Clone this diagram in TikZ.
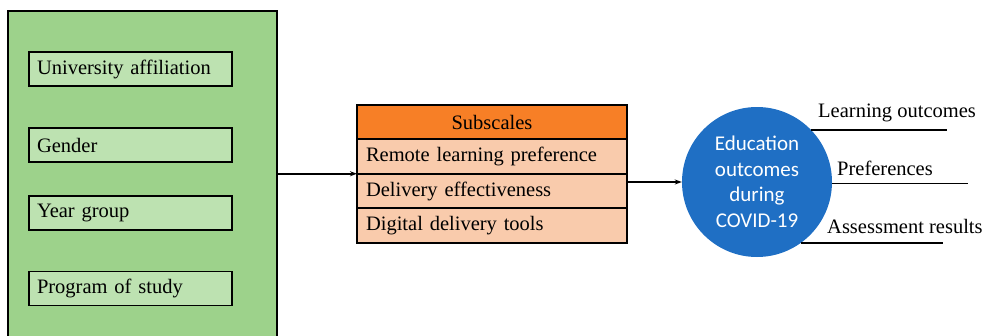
\documentclass[tikz,border=0pt]{standalone}
\usepackage{fontspec}
\setmainfont{Liberation Serif}
\newfontfamily\calibri{Carlito}
\usetikzlibrary{arrows.meta}
\definecolor{col1}{HTML}{9DD28B}
\definecolor{col2}{HTML}{BDE2B1}
\definecolor{col3}{HTML}{F77F26}
\definecolor{col4}{HTML}{F9CBAC}
\definecolor{col5}{HTML}{1F6FC4}

\begin{document}
\begin{tikzpicture}[x=1pt, y=-1pt,
		item/.style={draw, line width=1.8pt, fill=col2, minimum width=203pt, minimum height=34pt,
			text width=187pt, inner xsep=8pt, align=left},
		row/.style={draw, line width=1.8pt, fill=col4, outer sep=0pt, minimum width=270pt,
			minimum height=34.5pt, text width=252pt, inner xsep=9pt, align=left},
		link/.style={line width=1.5pt, -{Stealth[length=7pt, width=5pt]}},
		outline/.style={line width=1.5pt},
		label/.style={anchor=base west, inner sep=0pt},
	]
	\useasboundingbox (0,0) rectangle (991,335);
	\fontsize{20.5}{24}\selectfont
	% factors
	\node[draw, line width=1.8pt, fill=col1, anchor=north west, minimum width=269pt, minimum height=345pt] (factors) at (7,10) {};
	\node[item] (univ) at (130.5,69) {University affiliation};
	\node[item] (gender) at (130.5,145) {Gender};
	\node[item] (year) at (130.5,213) {Year group};
	\node[item] (prog) at (130.5,288.5) {Program of study};
	% subscales table
	\node[row, fill=col3, align=center] (head) at (492,122) {Subscales};
	\node[row] (remote) at (492,156.5) {Remote learning preference};
	\node[row] (deliv) at (492,191) {Delivery effectiveness};
	\node[row] (tools) at (492,225.5) {Digital delivery tools};
	% outcomes
	\node[circle, fill=col5, minimum size=150pt, text=white, align=center,
		font=\calibri\fontsize{21}{25.5}\selectfont] (outc) at (757,182) {Education\\outcomes\\during\\COVID-19};
	\draw[link] (remote.south west -| factors.east) -- (remote.south west);
	\draw[link] (deliv.east |- outc.west) -- (outc.west);
	\coordinate (loend) at (947,130);
	\coordinate (prend) at (968,184);
	\coordinate (asend) at (943,243);
	\draw[outline] (outc.44) -- (outc.44 -| loend);
	\draw[outline] (outc.-1) -- (outc.-1 -| prend);
	\draw[outline] (outc.-54) -- (outc.-54 -| asend);
	\node[label] (lo) at (818,117) {Learning outcomes};
	\node[label] (pr) at (837,175) {Preferences};
	\node[label] (as) at (827,233) {Assessment results};
\end{tikzpicture}
\end{document}
